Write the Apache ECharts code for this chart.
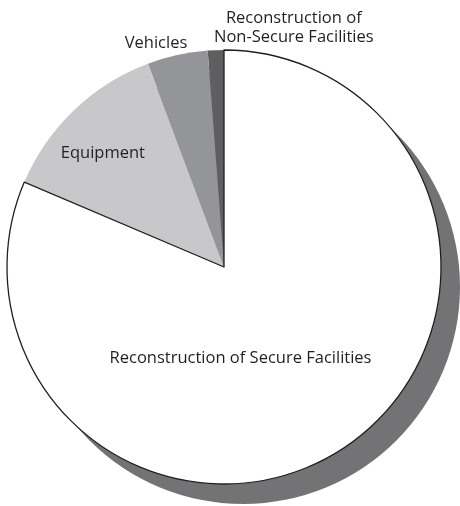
<!DOCTYPE html>
<html>
<head>
<meta charset="utf-8">
<script src="https://cdn.jsdelivr.net/npm/echarts@6/dist/echarts.min.js"></script>
<style>
  html, body { margin: 0; padding: 0; background: #ffffff; }
  #chart { width: 460px; height: 506px; }
</style>
</head>
<body>
<div id="chart"></div>
<script>
// Spending categories, listed counter-clockwise from 12 o'clock
var categories = [
  'Reconstruction of\nNon-Secure Facilities',
  'Vehicles',
  'Equipment',
  'Reconstruction of Secure Facilities'
];
// Share of spending (percent)
var shares = [1.2, 4.5, 12.9, 81.4];

var sliceColors = ['#5f5f62', '#939598', '#c8c8ca', '#ffffff'];
// nudges that move each label from the slice midpoint to its spot
var labelNudges = [[74, -128], [-44, -115], [-44, -33], [-45, -2]];

var chart = echarts.init(document.getElementById('chart'), null, { renderer: 'canvas' });

var pieData = categories.map(function (name, i) {
  var item = {
    name: name,
    value: shares[i],
    itemStyle: { color: sliceColors[i], borderWidth: 0 }
  };
  if (i === categories.length - 1) {
    item.itemStyle.borderColor = '#231f20';
    item.itemStyle.borderWidth = 1.3;
  }
  return item;
});

chart.setOption({
  backgroundColor: '#ffffff',
  animation: false,
  series: [
    {
      // drop shadow disc behind the pie
      type: 'pie',
      silent: true,
      center: [243, 287],
      radius: [0, 217],
      label: { show: false },
      labelLine: { show: false },
      itemStyle: { color: '#737376', borderWidth: 0 },
      data: [{ name: 'shadow', value: 1 }]
    },
    {
      type: 'pie',
      center: [224, 267],
      radius: [0, 217],
      startAngle: 90,
      clockwise: false,
      avoidLabelOverlap: false,
      silent: true,
      label: {
        show: true,
        position: 'inside',
        color: '#231f20',
        fontFamily: 'Open Sans',
        fontSize: 16.5,
        lineHeight: 19,
        align: 'center'
      },
      labelLine: { show: false },
      labelLayout: function (params) {
        var n = labelNudges[params.dataIndex];
        return { dx: n[0], dy: n[1] };
      },
      data: pieData
    }
  ]
});
</script>
</body>
</html>
